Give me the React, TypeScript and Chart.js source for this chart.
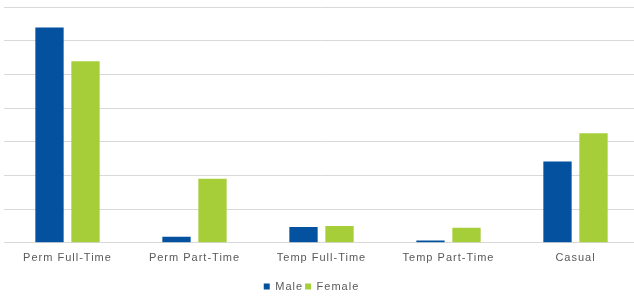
import React, { useEffect, useRef } from "react";
import { Chart, registerables } from "chart.js";

Chart.register(...registerables);

const categories = ["Perm Full-Time", "Perm Part-Time", "Temp Full-Time", "Temp Part-Time", "Casual"];
const maleValues = [6.39, 0.18, 0.47, 0.07, 2.41];
const femaleValues = [5.39, 1.9, 0.5, 0.45, 3.25];

const letterSpacingPlugin = {
  id: "letterSpacing",
  beforeUpdate(chart: any) {
    chart.ctx.letterSpacing = "1px";
  },
  afterLayout(chart: any) {
    if (chart.legend) {
      chart.legend.left -= 10;
      chart.legend.right -= 10;
    }
  },
  beforeDraw(chart: any) {
    chart.ctx.letterSpacing = "1px";
  },
};

export default function App() {
  const ref = useRef<HTMLCanvasElement | null>(null);
  useEffect(() => {
    document.body.style.margin = "0";
    document.body.style.overflow = "hidden";
    document.documentElement.style.overflow = "hidden";
    const ctx = ref.current!;
    const chart = new Chart(ctx, {
      type: "bar",
      plugins: [letterSpacingPlugin],
      data: {
        labels: categories,
        datasets: [
          { label: "Male", data: maleValues, backgroundColor: "#03519F", categoryPercentage: 0.567, barPercentage: 0.786 },
          { label: "Female", data: femaleValues, backgroundColor: "#A6CE39", categoryPercentage: 0.567, barPercentage: 0.786 },
        ],
      },
      options: {
        animation: false,
        responsive: false,
        maintainAspectRatio: false,
        layout: { padding: { top: 7, left: 4, right: 1, bottom: 0 } },
        plugins: {
          tooltip: { enabled: false },
          legend: {
            position: "bottom",
            labels: {
              boxWidth: 6,
              boxHeight: 6,
              color: "#595959",
              font: { family: "Liberation Sans, Arial", size: 11 },
              padding: 2,
            },
          },
        },
        scales: {
          x: {
            grid: { display: false },
            border: { display: false },
            ticks: { color: "#595959", font: { family: "Liberation Sans, Arial", size: 11 }, padding: 1 },
            afterFit(scale: any) {
              scale.height += 13;
            },
          },
          y: {
            min: 0,
            max: 7,
            ticks: { display: false, stepSize: 1 },
            border: { display: false },
            grid: { color: "#d9d9d9", lineWidth: 1, drawTicks: false },
          },
        },
      },
    });
    return () => chart.destroy();
  }, []);
  return <canvas ref={ref} width={640} height={302} style={{ display: "block" }} />;
}
